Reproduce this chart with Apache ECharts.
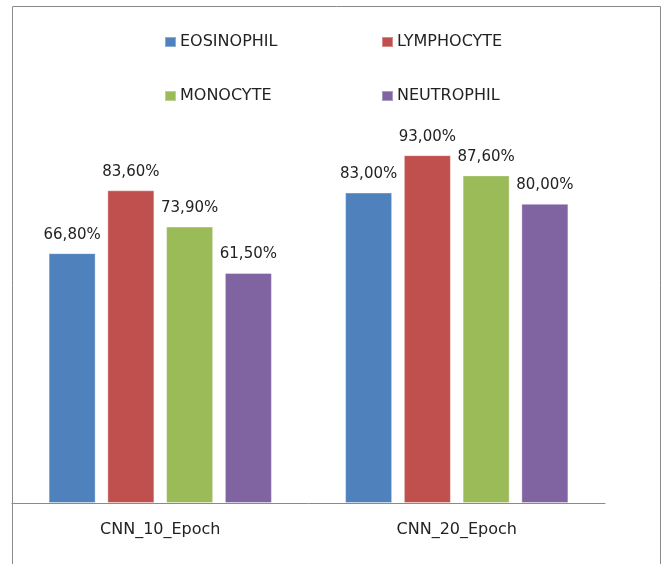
<!DOCTYPE html>
<html>
<head>
<meta charset="utf-8">
<script src="https://cdn.jsdelivr.net/npm/echarts@6/dist/echarts.min.js"></script>
<style>
  html, body { margin: 0; padding: 0; background: #fff; }
  #chart { width: 670px; height: 564px; }
</style>
</head>
<body>
<div id="chart"></div>
<script>
// Accuracy (%) of each white-cell class for two training runs
const categories = ['CNN_10_Epoch', 'CNN_20_Epoch'];
const eosinophil = [66.8, 83.0];
const lymphocyte = [83.6, 93.0];
const monocyte   = [73.9, 87.6];
const neutrophil = [61.5, 80.0];
const seriesNames = ['EOSINOPHIL', 'LYMPHOCYTE', 'MONOCYTE', 'NEUTROPHIL'];
const seriesData = [eosinophil, lymphocyte, monocyte, neutrophil];
const colors = ['#4F81BD', '#C0504D', '#9BBB59', '#8064A2'];

const FONT = '"DejaVu Sans", Verdana, sans-serif';

const chart = echarts.init(document.getElementById('chart'), null, { renderer: 'canvas' });

// one legend per entry so they sit in a 2 x 2 arrangement
const legendPos = [
  { left: 164, top: 34 },
  { left: 381, top: 34 },
  { left: 164, top: 88 },
  { left: 381, top: 88 }
];

chart.setOption({
  animation: false,
  color: colors,
  graphic: [{
    type: 'polyline',
    shape: { points: [[12.5, 600], [12.5, 6.5], [660.5, 6.5], [660.5, 600]] },
    style: { stroke: '#8a8a8a', lineWidth: 1, fill: null },
    silent: true
  }],
  legend: seriesNames.map((name, i) => ({
    data: [name],
    left: legendPos[i].left,
    top: legendPos[i].top,
    padding: 0,
    itemWidth: 11,
    itemHeight: 10,
    itemGap: 0,
    icon: 'rect',
    textStyle: { fontFamily: FONT, fontSize: 16, color: '#222', padding: [0, 0, 0, -1] }
  })),
  grid: { left: 12, right: 65, top: 129, bottom: 61, containLabel: false },
  xAxis: {
    type: 'category',
    data: categories,
    axisLine: { show: true, lineStyle: { color: '#8a8a8a', width: 1 } },
    axisTick: { show: false },
    axisLabel: { fontFamily: FONT, fontSize: 16, color: '#222', margin: 19 }
  },
  yAxis: {
    type: 'value',
    min: 0,
    max: 100,
    show: false,
    splitLine: { show: false }
  },
  series: seriesNames.map((name, i) => ({
    name: name,
    type: 'bar',
    data: seriesData[i],
    barWidth: 47,
    barGap: '25%',
    itemStyle: {
      color: colors[i],
      borderColor: 'rgba(255,255,255,0.35)',
      borderWidth: 1
    },
    label: {
      show: true,
      position: 'top',
      distance: 11,
      fontFamily: FONT,
      fontSize: 15,
      color: '#222',
      formatter: p => p.value.toFixed(2).replace('.', ',') + '%'
    }
  }))
});
</script>
</body>
</html>
